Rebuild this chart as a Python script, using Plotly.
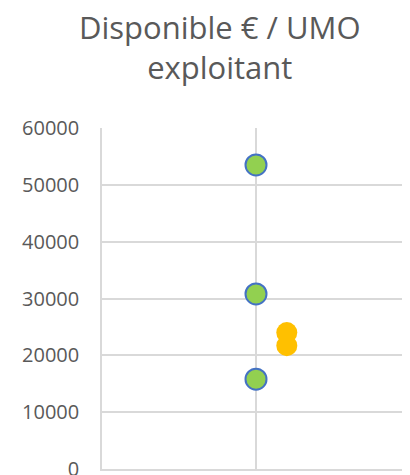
import plotly.graph_objects as go

# green series (x = 1)
green_x = [1, 1, 1]
green_y = [53500, 30800, 15800]

# orange series (slightly offset)
orange_x = [1.2, 1.2]
orange_y = [24000, 21700]

y_ticks = [0, 10000, 20000, 30000, 40000, 50000, 60000]

fig = go.Figure()

fig.add_trace(go.Scatter(
    x=green_x, y=green_y, mode="markers",
    marker=dict(color="#92D050", size=21, line=dict(color="#4472C4", width=2)),
    showlegend=False, cliponaxis=False,
))
fig.add_trace(go.Scatter(
    x=orange_x, y=orange_y, mode="markers",
    marker=dict(color="#FFC000", size=21, line=dict(width=0)),
    showlegend=False, cliponaxis=False,
))

# page body has an 8px margin, so the figure is a bit smaller than the window
fig.update_layout(
    width=402, height=467,
    margin=dict(l=94, r=0, t=120, b=6),
    paper_bgcolor="white", plot_bgcolor="white",
    font=dict(family="Open Sans, Liberation Sans, sans-serif", color="#595959"),
    annotations=[dict(
        text="Disponible € / UMO<br>exploitant",
        xref="paper", yref="paper", x=0.383, y=1.11,
        xanchor="center", yanchor="bottom", showarrow=False,
        font=dict(size=31, color="#595959"),
    )],
)

# bottom axis line stands in for the 0 gridline (plotly skips the edge one)
fig.update_xaxes(
    range=[0, 2], tickvals=[0, 1, 2], showticklabels=False,
    showgrid=True, gridcolor="#D9D9D9", gridwidth=1.5,
    zeroline=False, showline=True, linecolor="#D9D9D9", linewidth=1.5,
    fixedrange=True, automargin=False,
)
fig.update_yaxes(
    range=[0, 60000], tickvals=y_ticks, ticktext=[str(v) for v in y_ticks],
    showgrid=True, gridcolor="#D9D9D9", gridwidth=1.5,
    zeroline=False, showline=True, linecolor="#D9D9D9", linewidth=1.5,
    ticks="outside", ticklen=17, tickcolor="rgba(0,0,0,0)",
    ticklabeloverflow="allow", automargin=False,
    tickfont=dict(size=20, color="#595959"), fixedrange=True,
)

fig.write_html("out.html")
